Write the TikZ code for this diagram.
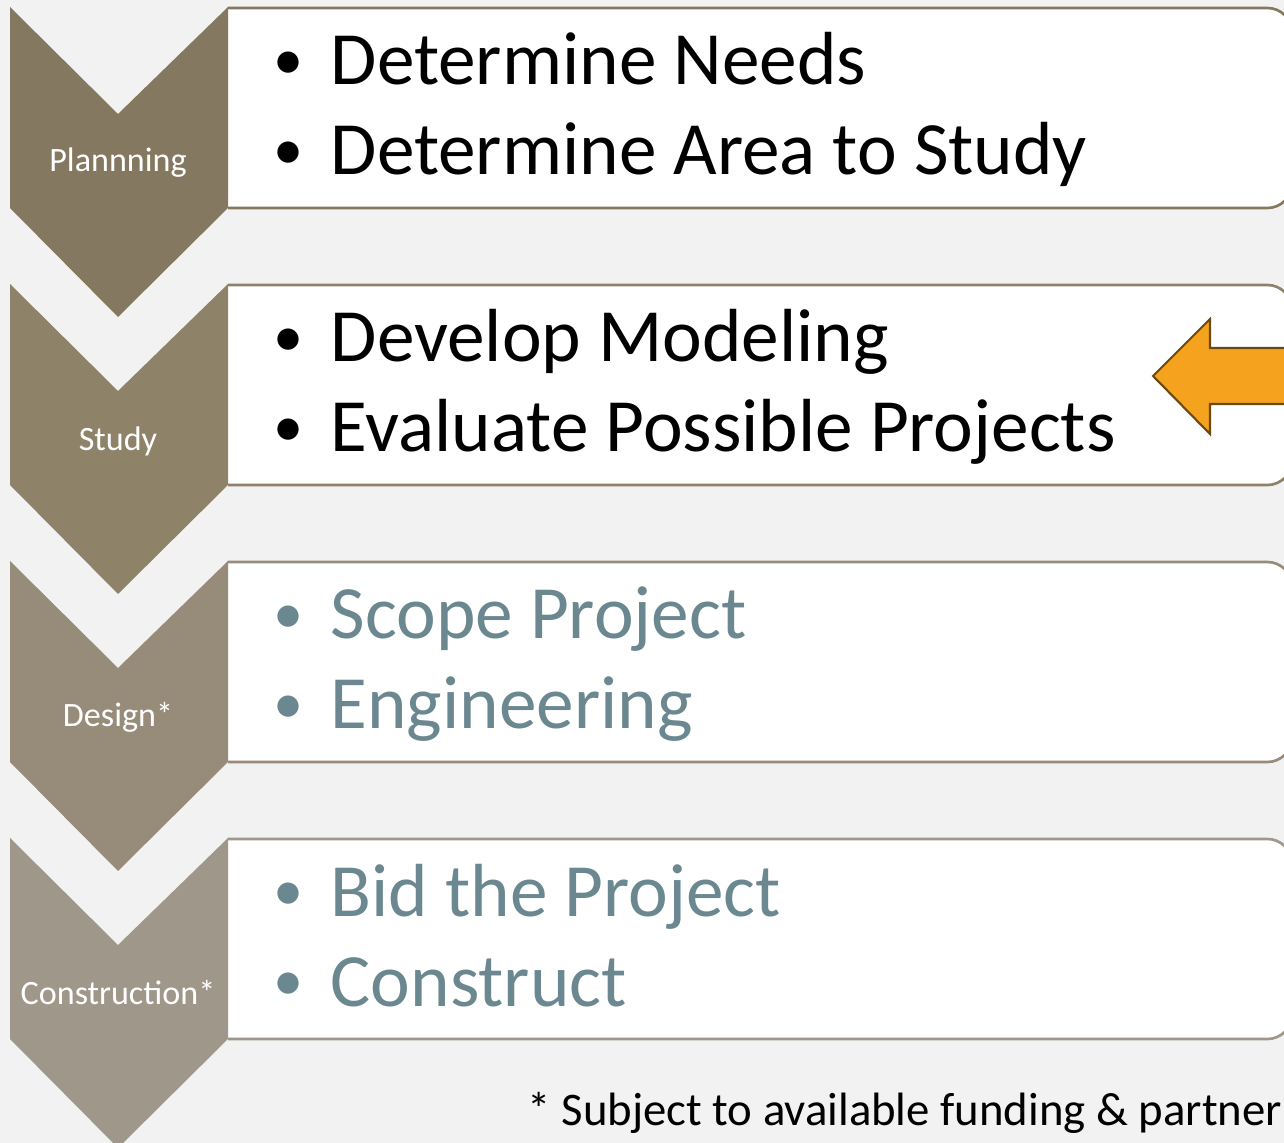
\documentclass[tikz,border=0pt]{standalone}
\usepackage{fontspec}
\setmainfont{Carlito}
\usepackage{xcolor}
\usepackage{tikz}
\usetikzlibrary{arrows.meta}

\definecolor{pagegray}{HTML}{F2F2F2}
\definecolor{stageA}{HTML}{857860}
\definecolor{stageB}{HTML}{8E8269}
\definecolor{stageC}{HTML}{978B79}
\definecolor{stageD}{HTML}{A0978B}
\definecolor{later}{HTML}{6B8891}
\definecolor{marker}{HTML}{F5A21F}
\definecolor{markerline}{HTML}{6B4A10}

\tikzset{
  stagebox/.style={line width=0.75pt,fill=white,rounded corners=7pt},
  stagename/.style={text=white,inner sep=0,font=\fontsize{9.7}{10}\selectfont},
  itemtext/.style={anchor=base west,inner sep=0,font=\fontsize{21.4}{22}\selectfont},
}
\newcommand{\bul}{\makebox[0.57cm][l]{\raisebox{0.055cm}{\scalebox{0.8}{\textbullet}}}}

\begin{document}
\begin{tikzpicture}[x=0.01cm,y=-0.01cm]
\useasboundingbox(0,0)rectangle(1284,1143);
\clip(0,0)rectangle(1284,1143);
\fill[pagegray](0,0)rectangle(1284,1143);
%%% boxes behind the chevrons
\foreach \t/\c in {8/stageA,285/stageB,562/stageC,839/stageD}{
\draw[stagebox,draw=\c](228,\t)--(1292,\t)--(1292,\t+200)--(228,\t+200);
\fill[\c](10,\t-1)--(118,\t+106)--(228,\t-1)--(228,\t+200)--(118,\t+309)--(10,\t+200)--cycle;
}
%%% stage names
\node[stagename](plan)at(118,163){Plannning};
\node[stagename](study)at(118,441){Study};
\node[stagename](design)at(118,717){Design*};
\node[stagename](build)at(118,993){Construction*};
%%% items
\node[itemtext](needs)at(273,85){\bul Determine Needs};
\node[itemtext](area)at(273,175){\bul Determine Area to Study};
\node[itemtext](model)at(273,362){\bul Develop Modeling};
\node[itemtext](evaluate)at(273,452){\bul Evaluate Possible Projects};
\node[itemtext,text=later](scope)at(273,639){\bul Scope Project};
\node[itemtext,text=later](engineer)at(273,729){\bul Engineering};
\node[itemtext,text=later](bid)at(273,916){\bul Bid the Project};
\node[itemtext,text=later](construct)at(273,1006){\bul Construct};
%%% current stage marker
\draw[line width=0.6pt,draw=markerline,fill=marker](1153,376)--(1210,319)--(1210,348)--(1300,348)
--(1300,404)--(1210,404)--(1210,434)--cycle;
\node[anchor=base west,inner sep=0,font=\fontsize{13.3}{14}\selectfont](note)at(527,1125){* Subject to available funding \& partner};
\end{tikzpicture}
\end{document}
